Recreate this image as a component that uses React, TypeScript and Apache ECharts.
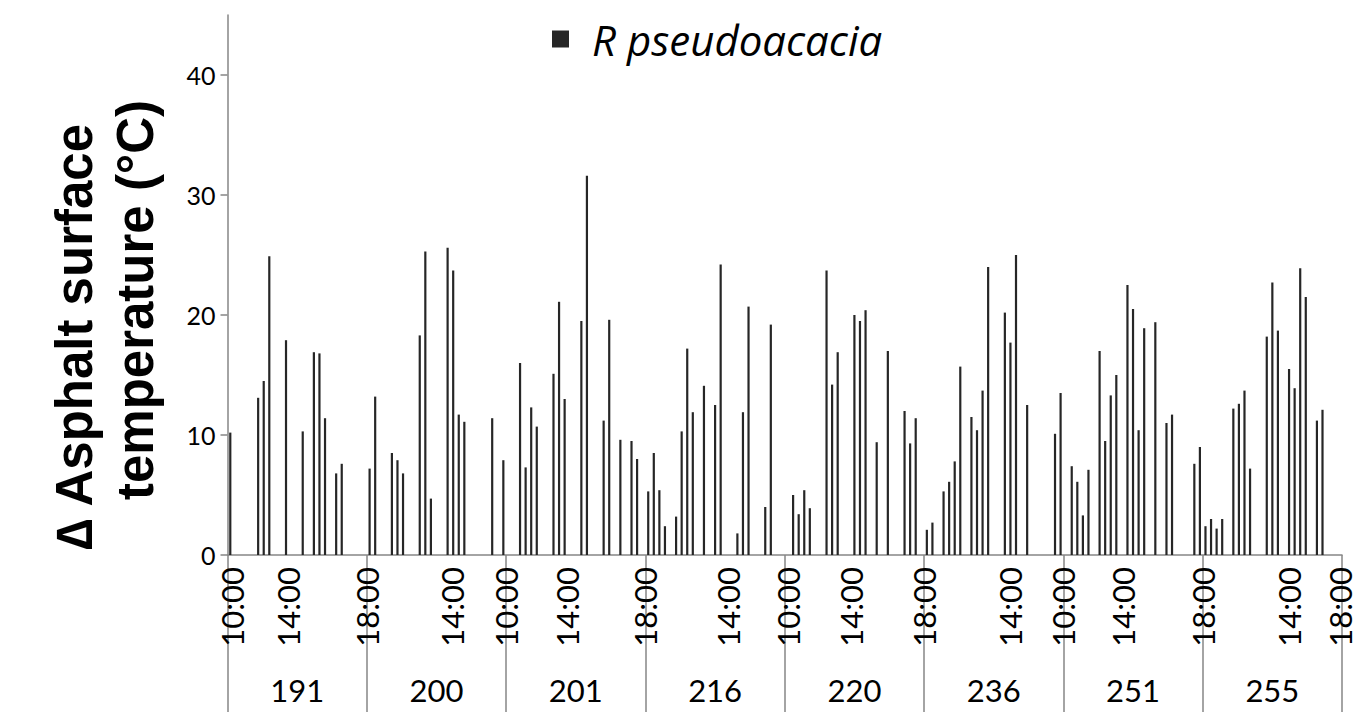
import React, { useEffect, useRef } from "react";
import * as echarts from "echarts";

// ---- data ----
const DAYS = ["191", "200", "201", "216", "220", "236", "251", "255"];
const SERIES_NAME = "R pseudoacacia";
const _ = null;
// 25 measurement slots per day (missing measurements are null)
const D191 = [10.2, _, _, _, _, 13.1, 14.5, 24.9, _, _, 17.9, _, _, 10.3, _, 16.9, 16.8, 11.4, _, 6.8, 7.6, _, _, _, _];
const D200 = [7.2, 13.2, _, _, 8.5, 7.9, 6.8, _, _, 18.3, 25.3, 4.7, _, _, 25.6, 23.7, 11.7, 11.1, _, _, _, _, 11.4, _, 7.9];
const D201 = [_, _, 16.0, 7.3, 12.3, 10.7, _, _, 15.1, 21.1, 13.0, _, _, 19.5, 31.6, _, _, 11.2, 19.6, _, 9.6, _, 9.5, 8.0, _];
const D216 = [5.3, 8.5, 5.4, 2.4, _, 3.2, 10.3, 17.2, 11.9, _, 14.1, _, 12.5, 24.2, _, _, 1.8, 11.9, 20.7, _, _, 4.0, 19.2, _, _];
const D220 = [_, 5.0, 3.4, 5.4, 3.9, _, _, 23.7, 14.2, 16.9, _, _, 20.0, 19.5, 20.4, _, 9.4, _, 17.0, _, _, 12.0, 9.3, 11.4, _];
const D236 = [2.1, 2.7, _, 5.3, 6.1, 7.8, 15.7, _, 11.5, 10.4, 13.7, 24.0, _, _, 20.2, 17.7, 25.0, _, 12.5, _, _, _, _, 10.1, 13.5];
const D251 = [_, 7.4, 6.1, 3.3, 7.1, _, 17.0, 9.5, 13.3, 15.0, _, 22.5, 20.5, 10.4, 18.9, _, 19.4, _, 11.0, 11.7, _, _, _, 7.6, 9.0];
const D255 = [2.4, 3.0, 2.2, 3.0, _, 12.2, 12.6, 13.7, 7.2, _, _, 18.2, 22.7, 18.7, _, 15.5, 13.9, 23.9, 21.5, _, 11.2, 12.1, _, _, _];
const DAY_VALUES = [D191, D200, D201, D216, D220, D236, D251, D255];

// time tick labels: [position along the slot axis, label]
const TIME_TICKS: [number, string][] = [
  [0.8, "10:00"], [10.9, "14:00"], [25, "18:00"], [40.3, "14:00"],
  [50, "10:00"], [61, "14:00"], [75, "18:00"], [89.9, "14:00"],
  [100.5, "10:00"], [111.8, "14:00"], [125, "18:00"], [140.5, "14:00"],
  [150, "10:00"], [160.7, "14:00"], [175, "18:00"], [190.5, "14:00"],
  [199.7, "18:00"],
];
const Y_TICKS = [0, 10, 20, 30, 40];
const Y_MAX = 45;

const SLOTS: string[] = [];
const VALUES: (number | string)[] = [];
DAYS.forEach((d, di) => {
  DAY_VALUES[di].forEach((v, si) => {
    SLOTS.push(`${d}-${si}`);
    VALUES.push(v == null ? "-" : v);
  });
});
const SLOT_TOTAL = SLOTS.length;

const AXIS = "#868686";
const LABEL_FONT = "Lato";

export default function App() {
  const ref = useRef<HTMLDivElement>(null);
  useEffect(() => {
    if (!ref.current) return;
    const chart = echarts.init(ref.current, undefined, { renderer: "svg" });
    chart.setOption({
      animation: false,
      backgroundColor: "#fff",
      grid: { left: 227.5, right: 16, top: 15, bottom: 157, containLabel: false, outerBoundsMode: "none" },
      legend: {
        show: true,
        data: [{ name: SERIES_NAME, icon: "rect" }],
        left: 547,
        top: 13,
        itemWidth: 17,
        itemHeight: 17,
        textStyle: { fontStyle: "italic", fontSize: 42, fontFamily: "Open Sans", color: "#000", padding: [0, 0, 0, 18] },
      },
      xAxis: [
        {
          type: "category",
          data: SLOTS,
          position: "bottom",
          boundaryGap: true,
          axisLine: { show: true, lineStyle: { color: AXIS, width: 1.5 } },
          axisTick: { show: false },
          axisLabel: { show: false },
          splitLine: { show: false },
        },
        {
          type: "category",
          data: DAYS,
          position: "bottom",
          boundaryGap: true,
          axisLine: { show: false },
          axisTick: { show: true, length: 157, lineStyle: { color: AXIS, width: 1.5 } },
          axisLabel: { margin: 119, fontSize: 31, fontFamily: LABEL_FONT, color: "#000", interval: 0 },
          splitLine: { show: false },
        },
        {
          type: "value",
          min: 0,
          max: SLOT_TOTAL,
          position: "bottom",
          axisLine: { show: false },
          axisTick: { show: false },
          splitLine: { show: false },
          axisLabel: {
            customValues: TIME_TICKS.map((t) => t[0]),
            formatter: (v: number) => {
              const t = TIME_TICKS.find((x) => Math.abs(x[0] - v) < 1e-6);
              return t ? t[1] : "";
            },
            rotate: 90,
            margin: 12,
            fontSize: 31,
            fontFamily: LABEL_FONT,
            color: "#000",
            showMinLabel: true,
            showMaxLabel: true,
          },
        },
      ],
      yAxis: {
        type: "value",
        min: 0,
        max: Y_MAX,
        axisLine: { show: true, lineStyle: { color: AXIS, width: 1.5 } },
        axisTick: { show: true, length: 7, customValues: Y_TICKS, lineStyle: { color: AXIS, width: 1.5 } },
        axisLabel: { customValues: Y_TICKS, margin: 12, fontSize: 25, fontFamily: LABEL_FONT, color: "#000" },
        splitLine: { show: false },
      },
      graphic: [
        {
          type: "text",
          x: 74,
          y: 337,
          rotation: Math.PI / 2,
          style: {
            text: "\u2206 Asphalt surface",
            fontSize: 51,
            fontWeight: "bold",
            fontFamily: "Liberation Sans",
            fill: "#000",
            align: "center",
            verticalAlign: "middle",
            textAlign: "center",
            textVerticalAlign: "middle",
          },
        },
        {
          type: "text",
          x: 135,
          y: 300,
          rotation: Math.PI / 2,
          style: {
            text: "temperature (\u00B0C)",
            fontSize: 51,
            fontWeight: "bold",
            fontFamily: "Liberation Sans",
            fill: "#000",
            align: "center",
            verticalAlign: "middle",
            textAlign: "center",
            textVerticalAlign: "middle",
          },
        },
      ],
      series: [
        {
          type: "bar",
          name: SERIES_NAME,
          data: VALUES,
          xAxisIndex: 0,
          yAxisIndex: 0,
          barWidth: 2.2,
          itemStyle: { color: "#262626" },
        },
      ],
    });
    return () => chart.dispose();
  }, []);
  return <div ref={ref} style={{ position: "absolute", left: 0, top: 0, width: 1358, height: 712 }} />;
}
